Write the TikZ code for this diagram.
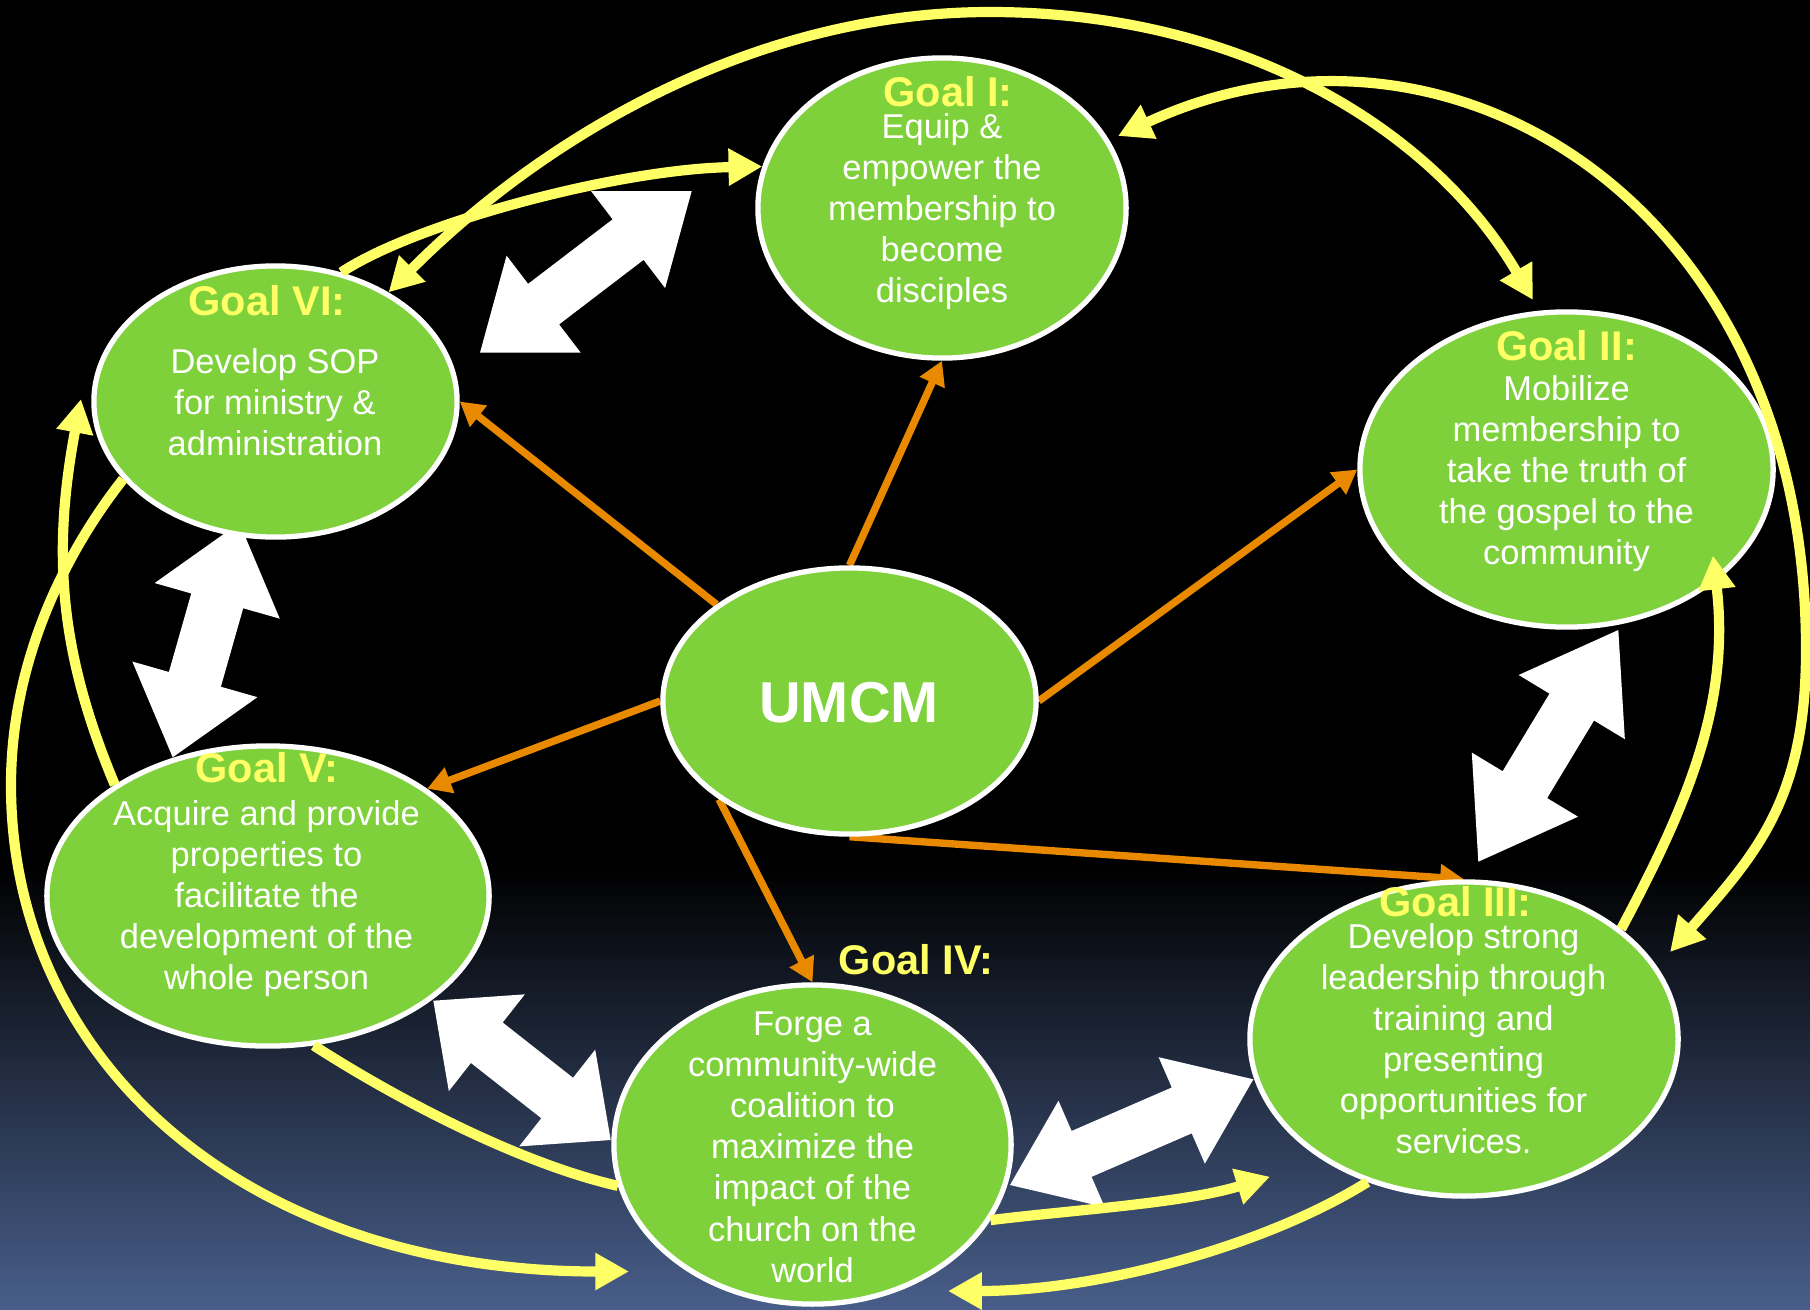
\documentclass[tikz,border=0pt]{standalone}
\usepackage{fontspec}
\setmainfont{Liberation Sans}
\usetikzlibrary{calc,arrows.meta,shapes.geometric}
\definecolor{goalgreen}{RGB}{127,209,59}
\definecolor{titleyellow}{RGB}{255,255,102}
\definecolor{arcyellow}{RGB}{255,255,102}
\definecolor{linkorange}{RGB}{233,137,0}
\definecolor{bgbottom}{RGB}{72,94,138}
% the shaded path spans 25bp (bottom) to 75bp (top)
\pgfdeclareverticalshading{bgshade}{100bp}{color(0bp)=(bgbottom); color(25bp)=(bgbottom); color(42bp)=(black); color(100bp)=(black)}
\pgfdeclarelayer{back}
\pgfdeclarelayer{mid}
\pgfsetlayers{back,mid,main}
% double block arrow: #1,#2 tips; #3 head length; #4 head half width; #5 shaft half width
\newcommand\dblblockarrow[5]{%
  \fill[white] (#1)
    -- ($($(#1)!#3!(#2)$)!#4!90:(#2)$)
    -- ($($(#1)!#3!(#2)$)!#5!90:(#2)$)
    -- ($($(#2)!#3!(#1)$)!#5!-90:(#1)$)
    -- ($($(#2)!#3!(#1)$)!#4!-90:(#1)$)
    -- (#2)
    -- ($($(#2)!#3!(#1)$)!#4!90:(#1)$)
    -- ($($(#2)!#3!(#1)$)!#5!90:(#1)$)
    -- ($($(#1)!#3!(#2)$)!#5!-90:(#2)$)
    -- ($($(#1)!#3!(#2)$)!#4!-90:(#2)$)
    -- cycle;}
\begin{document}
\begin{tikzpicture}[x=0.01cm,y=-0.01cm,
  goal/.style={ellipse, fill=goalgreen, draw=white, line width=1.5pt, inner sep=0pt},
  bodytxt/.style={text=white, font=\fontsize{9.8}{11.7}\selectfont, inner sep=0pt, anchor=base},
  titletxt/.style={text=titleyellow, font=\fontsize{11.8}{14}\selectfont\bfseries, inner sep=0pt, anchor=base},
  olink/.style={draw=linkorange, line width=2.1pt, >={Triangle[width=7.4pt,length=6.8pt]}, ->},
  yarc/.style={draw=arcyellow, line width=2.9pt, >={Triangle[width=10pt,length=9.6pt]}}
]
\useasboundingbox (0,0) rectangle (1810,1309);
\begin{pgfonlayer}{back}
  \shade[shading=bgshade] (0cm,-13.09cm) rectangle (18.1cm,0cm);
\end{pgfonlayer}

% ellipses
\node[goal, minimum width=3.68cm, minimum height=3.00cm] (g1) at (942,208) {};
\node[goal, minimum width=3.63cm, minimum height=2.71cm] (g6) at (275.5,401.5) {};
\node[goal, minimum width=4.13cm, minimum height=3.15cm] (g2) at (1566.5,469.5) {};
\node[goal, minimum width=3.73cm, minimum height=2.66cm] (um) at (849.5,701) {};
\node[goal, minimum width=4.42cm, minimum height=3.00cm] (g5) at (268,896) {};
\node[goal, minimum width=3.97cm, minimum height=3.19cm] (g4) at (812.5,1144.5) {};
\node[goal, minimum width=4.28cm, minimum height=3.14cm] (g3) at (1464,1039) {};

% texts
\node[titletxt] (t1) at (948,106) {Goal I:};
\node[bodytxt] (b1) at (942,138) {\begin{tabular}[t]{@{}c@{}}Equip \&\\empower the\\membership to\\become\\disciples\end{tabular}};
\node[titletxt] (t6) at (267,315.4) {Goal VI:};
\node[bodytxt] (b6) at (275,373) {\begin{tabular}[t]{@{}c@{}}Develop SOP\\for ministry \&\\administration\end{tabular}};
\node[titletxt] (t2) at (1566.5,360) {Goal II:};
\node[bodytxt] (b2) at (1566.5,400.2) {\begin{tabular}[t]{@{}c@{}}Mobilize\\membership to\\take the truth of\\the gospel to the\\community\end{tabular}};
\node[titletxt] (t3) at (1455.5,916) {Goal III:};
\node[bodytxt] (b3) at (1463.5,948) {\begin{tabular}[t]{@{}c@{}}Develop strong\\leadership through\\training and\\presenting\\opportunities for\\services.\end{tabular}};
\node[titletxt] (t4) at (916,974) {Goal IV:};
\node[bodytxt] (b4) at (812.5,1035.4) {\begin{tabular}[t]{@{}c@{}}Forge a\\community-wide\\coalition to\\maximize the\\impact of the\\church on the\\world\end{tabular}};
\node[titletxt] (t5) at (267,782.2) {Goal V:};
\node[bodytxt] (b5) at (266.5,825.2) {\begin{tabular}[t]{@{}c@{}}Acquire and provide\\properties to\\facilitate the\\development of the\\whole person\end{tabular}};
\node[text=white, font=\fontsize{16.4}{19}\selectfont\bfseries, inner sep=0pt, anchor=base] (tum) at (849,722) {UMCM};

% block arrow ends
\coordinate (w1a) at (480,352.7);   \coordinate (w1b) at (691.7,191);
\coordinate (w2a) at (172.7,757.3); \coordinate (w2b) at (239.4,522.9);
\coordinate (w3a) at (1618.3,630);  \coordinate (w3b) at (1478.3,861.7);
\coordinate (w4a) at (433.3,1000.7);\coordinate (w4b) at (610.7,1140);
\coordinate (w5a) at (1010,1185);   \coordinate (w5b) at (1253.3,1079.3);

\begin{pgfonlayer}{mid}
  \dblblockarrow{w1a}{w1b}{0.80cm}{0.61cm}{0.255cm}
  \dblblockarrow{w2a}{w2b}{0.81cm}{0.65cm}{0.27cm}
  \dblblockarrow{w3a}{w3b}{0.90cm}{0.62cm}{0.26cm}
  \dblblockarrow{w4a}{w4b}{0.68cm}{0.615cm}{0.257cm}
  \dblblockarrow{w5a}{w5b}{0.78cm}{0.58cm}{0.25cm}
  % orange links from UMCM
  \draw[olink] (um.144) -- (g6.0);
  \draw[olink] (um.90) -- (g1.270);
  \draw[olink] (um.0) -- (g2.180);
  \draw[olink] (um.180) -- (g5.34);
  \draw[olink] (um.217) -- (g4.90);
  \draw[olink] (um.270) -- (g3.90);
\end{pgfonlayer}

% free ends of the yellow arcs
\coordinate (aII) at (1533,300);
\coordinate (aI) at (1118,136);
\coordinate (aIII) at (1670,952);
\coordinate (aVI) at (81,399);
\coordinate (aIV) at (629,1271.5);
\coordinate (aG) at (1270,1176.7);
\coordinate (aH) at (948,1291);
\coordinate (aIIb) at (1713,555.6);

% yellow arcs
\draw[yarc,<->] (g6.44) .. controls (529.4,150.6) and (740,12) .. (990,12)
   .. controls (1240,12) and (1431.8,127.6) .. (aII);
\draw[yarc,<->] (aI) .. controls (1444.2,-15.9) and (1806,200) .. (1806,650)
   .. controls (1806,800) and (1755.7,854.1) .. (aIII);
\draw[yarc,->] (g6.63) .. controls (415.2,223.2) and (617.6,169.2) .. (g1.167);
\draw[yarc,->] (g5.144) .. controls (56.8,646.8) and (53.4,546.5) .. (aVI);
\draw[yarc,->] (g6.207) .. controls (61.7,557.3) and (11,665) .. (11,785)
   .. controls (11,1065) and (249,1271.5) .. (aIV);
\draw[yarc] (g4.192) .. controls (520.4,1163.6) and (398,1099.8) .. (g5.287);
\draw[yarc,->] (g4.337) .. controls (1079.6,1209.3) and (1184,1203) .. (aG);
\draw[yarc,->] (g3.236) .. controls (1264.7,1246.2) and (1098,1291) .. (aH);
\draw[yarc,->] (g3.35) .. controls (1686.4,806.4) and (1730.3,704.6) .. (aIIb);
\end{tikzpicture}
\end{document}
